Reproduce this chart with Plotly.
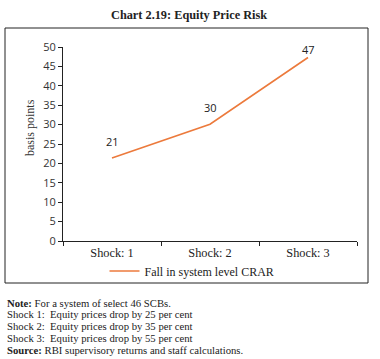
import plotly.graph_objects as go

categories = ["Shock: 1", "Shock: 2", "Shock: 3"]
values = [21.4, 30.1, 47.3]
labels = ["21", "30", "47"]
series_name = "Fall in system level CRAR"
notes = [
    "<b>Note:</b> For a system of select 46 SCBs.",
    "Shock 1:  Equity prices drop by 25 per cent",
    "Shock 2:  Equity prices drop by 35 per cent",
    "Shock 3:  Equity prices drop by 55 per cent",
    "<b>Source:</b> RBI supervisory returns and staff calculations.",
]

W, H = 380, 359
L, R, T, B = 63, 357, 47, 241

def px(x):
    return (x - L) / (R - L)

def py(y):
    return (B - y) / (B - T)

serif = "Liberation Serif, DejaVu Serif, serif"
fig = go.Figure()
fig.add_trace(go.Scatter(
    x=categories, y=values, mode="lines", name=series_name,
    line=dict(color="#EC7A3C", width=1.6),
))
label_shift = [16, 17, 8]
for c, v, t, s in zip(categories, values, labels, label_shift):
    fig.add_annotation(x=c, y=v, text=t, showarrow=False, yshift=s,
                       xanchor="center", yanchor="middle",
                       font=dict(family="Open Sans, sans-serif", size=11, color="#222"))

fig.update_layout(
    width=W, height=H,
    margin=dict(l=L, r=W - R, t=T, b=H - B),
    paper_bgcolor="white", plot_bgcolor="white",
    showlegend=True,
    legend=dict(orientation="h", x=px(192), xanchor="center", y=py(271), yanchor="middle",
                bgcolor="rgba(0,0,0,0)",
                font=dict(family=serif, size=12, color="#222"), itemwidth=30),
    xaxis=dict(range=[-0.5, 2.5], showline=True, linecolor="#222", linewidth=1,
               ticks="outside", ticklen=4, tickcolor="#222", tickson="boundaries",
               showgrid=False, tickfont=dict(family=serif, size=12.3, color="#222")),
    yaxis=dict(range=[0, 50], dtick=5, showline=True, linecolor="#222", linewidth=1,
               ticks="outside", ticklen=4, tickcolor="#222", showgrid=False, zeroline=False,
               tickfont=dict(family="Open Sans, sans-serif", size=11, color="#333")),
    shapes=[dict(type="rect", xref="paper", yref="paper",
                 x0=px(5), x1=px(368), y0=py(283), y1=py(28),
                 line=dict(color="#222", width=1))],
)

fig.add_annotation(text="basis points", xref="paper", yref="paper", x=px(30), y=py(128),
                   textangle=-90, showarrow=False, xanchor="center", yanchor="middle",
                   font=dict(family=serif, size=12, color="#333"))
fig.add_annotation(text="<b>Chart 2.19: Equity Price Risk</b>", xref="paper", yref="paper",
                   x=px(189), y=py(15), xanchor="center", yanchor="middle", showarrow=False,
                   font=dict(family=serif, size=12.3, color="#222"))
note_ys = [303, 314, 326, 338, 350]
for t, yy in zip(notes, note_ys):
    fig.add_annotation(text=t, xref="paper", yref="paper", x=px(5), y=py(yy),
                       xanchor="left", yanchor="middle", showarrow=False,
                       font=dict(family=serif, size=10.7, color="#222"))

fig.write_html("out.html")
